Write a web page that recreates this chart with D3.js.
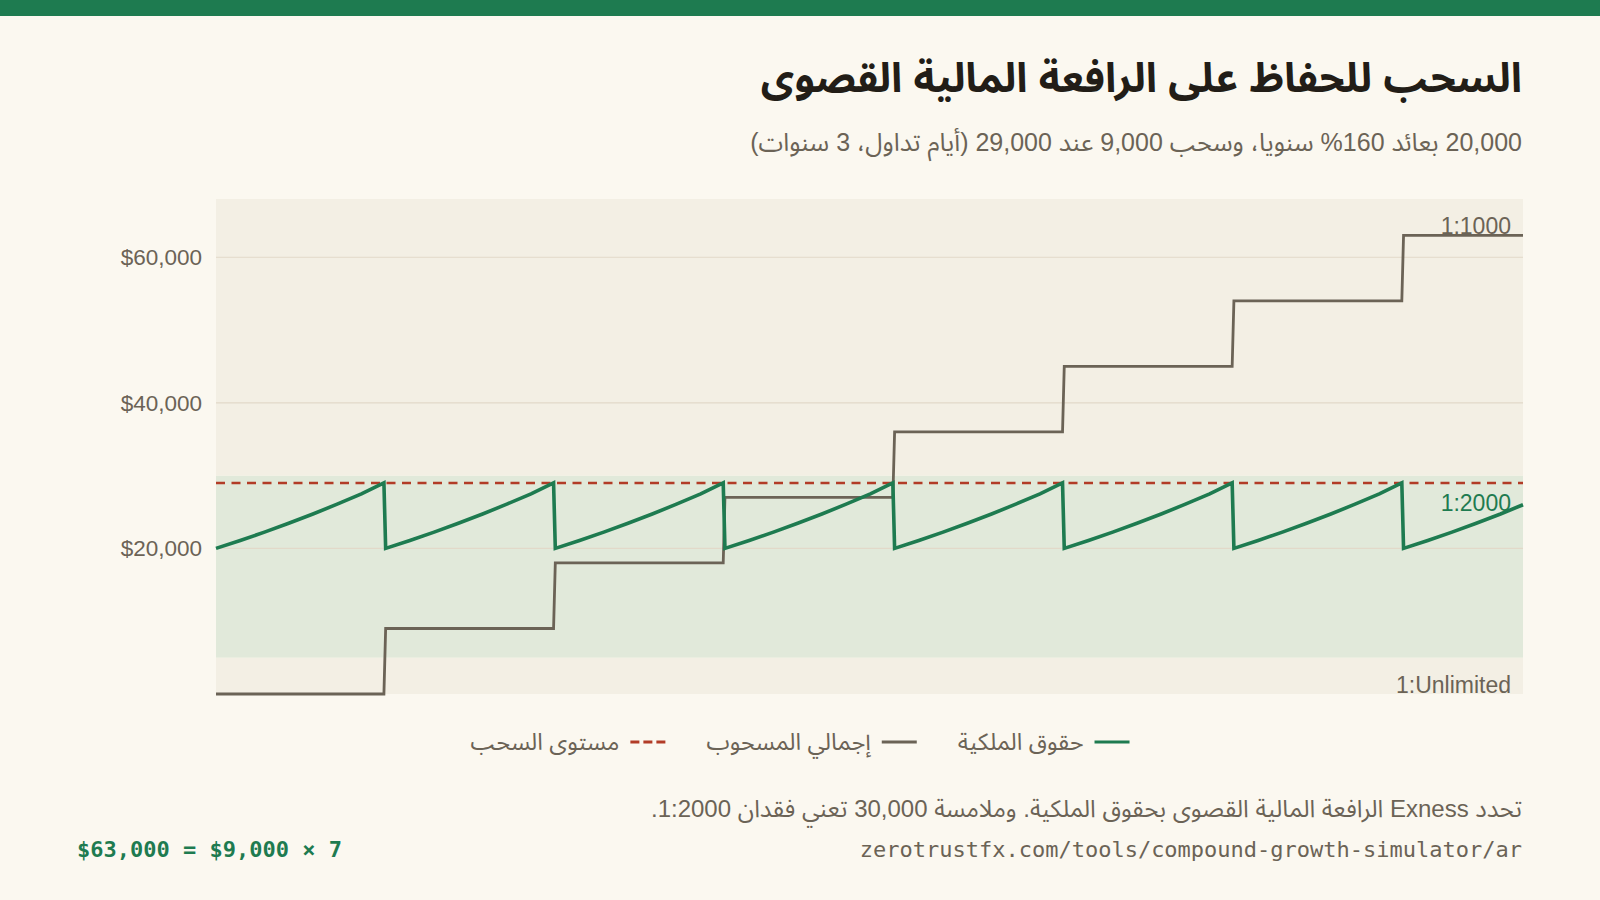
<!DOCTYPE html>
<html lang="ar">
<head>
<meta charset="utf-8">
<script src="https://cdn.jsdelivr.net/npm/d3@7"></script>
<style>
  html, body { margin: 0; padding: 0; background: #fbf8f0; }
  svg { display: block; }
</style>
</head>
<body>
<svg id="chart" width="1600" height="900"></svg>
<script>
// ---------------- data ----------------
const titleText = "السحب للحفاظ على الرافعة المالية القصوى";
const subtitleText = "20,000 بعائد 160% سنويا، وسحب 9,000 عند 29,000 (أيام تداول، 3 سنوات)";
const noteText = "تحدد Exness الرافعة المالية القصوى بحقوق الملكية. وملامسة 30,000 تعني فقدان 1:2000.";
const formulaText = "$63,000 = $9,000 × 7";
const urlText = "zerotrustfx.com/tools/compound-growth-simulator/ar";

// equity (trading day, value)
const equityDays = [
  0, 14, 28, 42, 56, 70, 84, 97,
  98, 112, 126, 140, 154, 168, 182, 195,
  196, 210, 224, 238, 252, 266, 280, 293,
  294, 308, 322, 336, 350, 364, 378, 391,
  392, 406, 420, 434, 448, 462, 476, 489,
  490, 504, 518, 532, 546, 560, 574, 587,
  588, 602, 616, 630, 644, 658, 672, 685,
  686, 700, 714, 728, 742, 755
];
const equityValues = [
  20000, 21090, 22240, 23450, 24730, 26080, 27500, 29000,
  20000, 21090, 22240, 23450, 24730, 26080, 27500, 29000,
  20000, 21090, 22240, 23450, 24730, 26080, 27500, 29000,
  20000, 21090, 22240, 23450, 24730, 26080, 27500, 29000,
  20000, 21090, 22240, 23450, 24730, 26080, 27500, 29000,
  20000, 21090, 22240, 23450, 24730, 26080, 27500, 29000,
  20000, 21090, 22240, 23450, 24730, 26080, 27500, 29000,
  20000, 21090, 22240, 23450, 24730, 26000
];

// cumulative withdrawn (trading day, value)
const withdrawnDays = [0, 97, 98, 195, 196, 293, 294, 391, 392, 489, 490, 587, 588, 685, 686, 755];
const withdrawnValues = [0, 0, 9000, 9000, 18000, 18000, 27000, 27000, 36000, 36000, 45000, 45000, 54000, 54000, 63000, 63000];

const withdrawLevel = 29000;
const dayDomain = [0, 755];
const yDomain = [0, 68000];
const yTicks = [20000, 40000, 60000];

// leverage zones
const zoneLabels = ["1:Unlimited", "1:2000", "1:1000"];
const zoneFrom = [0, 5000, 30000];
const zoneTo = [5000, 30000, 68000];

const legendLabels = ["حقوق الملكية", "إجمالي المسحوب", "مستوى السحب"];

// ---------------- styles ----------------
const SANS = '"Liberation Sans", "Noto Sans Arabic", "Noto Kufi Arabic", "DejaVu Sans", sans-serif';
const MONO = '"DejaVu Sans Mono", "Liberation Mono", monospace';
const C = {
  green: "#1e7b50",
  gray: "#6b6356",
  red: "#b23c27",
  text: "#221d17",
  muted: "#6b6356",
  plotBg: "#f3efe4",
  greenZone: "#e1e9da",
  grid: "#e2d9c9",
  bar: "#1e7b50"
};
const zoneFill = [C.plotBg, C.greenZone, C.plotBg];
const zoneTextColor = [C.gray, C.green, C.gray];

const svg = d3.select("#chart");
const W = 1600, H = 900;
const P = { left: 216, right: 1523, top: 199, bottom: 694 };

function rtlText(sel) {
  return sel.attr("direction", "rtl").style("direction", "rtl").attr("text-anchor", "start");
}

// top bar
svg.append("rect").attr("x", 0).attr("y", 0).attr("width", W).attr("height", 16).attr("fill", C.bar);

// title + subtitle
rtlText(svg.append("text").attr("x", 1522).attr("y", 92))
  .style("font-family", SANS).attr("font-size", 41).attr("font-weight", 700).attr("fill", C.text)
  .text(titleText);
rtlText(svg.append("text").attr("x", 1522).attr("y", 151))
  .style("font-family", SANS).attr("font-size", 25).attr("fill", C.muted)
  .text(subtitleText);

// scales
const x = d3.scaleLinear().domain(dayDomain).range([P.left, P.right]);
const y = d3.scaleLinear().domain(yDomain).range([P.bottom, P.top]);

// zones
const zones = zoneLabels.map((l, i) => ({ label: l, from: zoneFrom[i], to: zoneTo[i], fill: zoneFill[i], color: zoneTextColor[i] }));
svg.append("g").selectAll("rect").data(zones).join("rect")
  .attr("x", P.left).attr("width", P.right - P.left)
  .attr("y", d => y(d.to)).attr("height", d => y(d.from) - y(d.to))
  .attr("fill", d => d.fill);

// grid
svg.append("g").selectAll("line").data(yTicks).join("line")
  .attr("x1", P.left).attr("x2", P.right)
  .attr("y1", d => y(d)).attr("y2", d => y(d))
  .attr("stroke", C.grid).attr("stroke-width", 1.2);

// y axis
const yAxis = d3.axisLeft(y).tickValues(yTicks).tickSize(0).tickPadding(14)
  .tickFormat(d => "$" + d3.format(",")(d));
const ya = svg.append("g").attr("transform", `translate(${P.left},0)`).call(yAxis);
ya.select(".domain").remove();
ya.selectAll("text").attr("font-size", 22.5).attr("fill", C.muted)
  .style("font-family", SANS);

// zone labels
svg.append("g").selectAll("text").data(zones).join("text")
  .attr("x", P.right - 12).attr("y", d => y(d.to) + 35)
  .attr("text-anchor", "end").attr("font-size", 23).style("font-family", SANS)
  .attr("fill", d => d.color).text(d => d.label);

// withdrawal level
svg.append("line")
  .attr("x1", P.left).attr("x2", P.right)
  .attr("y1", y(withdrawLevel)).attr("y2", y(withdrawLevel))
  .attr("stroke", C.red).attr("stroke-width", 2.5).attr("stroke-dasharray", "9,6.5");

// withdrawn line
const wData = withdrawnDays.map((d, i) => [d, withdrawnValues[i]]);
svg.append("path").datum(wData)
  .attr("d", d3.line().x(d => x(d[0])).y(d => y(d[1])))
  .attr("fill", "none").attr("stroke", C.gray).attr("stroke-width", 2.8)
  .attr("stroke-linejoin", "miter");

// equity line
const eData = equityDays.map((d, i) => [d, equityValues[i]]);
svg.append("path").datum(eData)
  .attr("d", d3.line().x(d => x(d[0])).y(d => y(d[1])).curve(d3.curveLinear))
  .attr("fill", "none").attr("stroke", C.green).attr("stroke-width", 3.6)
  .attr("stroke-linejoin", "miter");

// legend
const legendColors = [C.green, C.gray, C.red];
const legendDash = [null, null, "9,4"];
const lg = svg.append("g");
const items = legendLabels.map((l, i) => {
  const g = lg.append("g");
  g.append("line").attr("x1", -35).attr("x2", 0).attr("y1", 0).attr("y2", 0)
    .attr("stroke", legendColors[i]).attr("stroke-width", 3.2)
    .attr("stroke-dasharray", legendDash[i]);
  const t = rtlText(g.append("text").attr("x", -46).attr("y", 8))
    .style("font-family", SANS).attr("font-size", 23.5).attr("fill", C.muted).text(l);
  const w = t.node().getComputedTextLength();
  return { g, w: 46 + w };
});
const gapItems = 41;
const totalW = d3.sum(items, d => d.w) + gapItems * (items.length - 1);
let cx = 800 + totalW / 2;
items.forEach(it => {
  it.g.attr("transform", `translate(${cx},742)`);
  cx -= it.w + gapItems;
});

// footer
rtlText(svg.append("text").attr("x", 1522).attr("y", 817))
  .style("font-family", SANS).attr("font-size", 24).attr("fill", C.muted).text(noteText);
svg.append("text").attr("x", 77).attr("y", 857)
  .style("font-family", MONO)
  .attr("font-size", 22).attr("font-weight", 700).attr("fill", C.green).text(formulaText);
svg.append("text").attr("x", 1522).attr("y", 857).attr("text-anchor", "end")
  .style("font-family", MONO)
  .attr("font-size", 22).attr("fill", C.muted).text(urlText);
</script>
</body>
</html>
